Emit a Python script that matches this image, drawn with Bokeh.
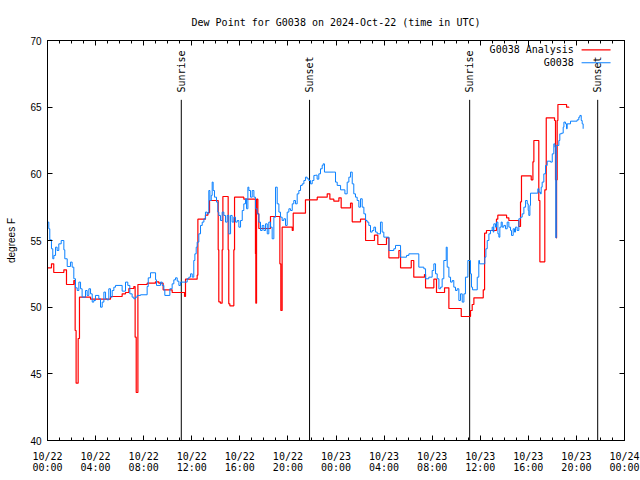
from datetime import datetime, timedelta
from math import pi

from bokeh.plotting import figure
from bokeh.models import (FixedTicker, DatetimeTickFormatter, DatetimeAxis,
                          LinearAxis, Range1d)
from bokeh.core.properties import value
from bokeh.embed import file_html
from bokeh.resources import INLINE

BASE = datetime(2024, 10, 22, 0, 0)

# ---- data: hours after 2024-10-22 00:00 UTC, dew point (deg F) ----
analysis_hours = [0.00, 0.33, 0.52, 1.36, 1.58, 2.19, 2.30, 2.38, 2.55, 2.66,
                  3.58, 5.24, 6.21, 6.49, 6.77, 7.18, 7.29, 7.38, 7.52, 8.29,
                  8.98, 9.26, 9.62, 10.37, 11.40, 11.48, 12.45, 12.51, 13.14, 13.34,
                  13.48, 14.20, 14.25, 14.38, 14.53, 14.59, 15.03, 15.08, 15.17, 15.50,
                  15.56, 16.33, 17.30, 17.33, 17.39, 17.50, 17.58, 18.55, 19.33, 19.41,
                  19.52, 20.36, 20.44, 21.46, 22.44, 23.27, 23.49, 23.82, 24.24, 24.43,
                  25.21, 25.35, 26.04, 26.46, 27.20, 27.48, 28.20, 28.40, 29.23, 29.37,
                  30.26, 30.47, 31.36, 31.45, 32.14, 32.36, 33.03, 33.39, 34.42, 35.19,
                  35.33, 35.47, 36.25, 36.36, 36.52, 37.35, 37.46, 38.19, 38.38, 39.21,
                  39.35, 39.43, 40.24, 40.38, 40.46, 40.87, 40.96, 41.37, 41.49, 42.18,
                  42.26, 42.32, 42.35, 42.40, 42.46, 43.18, 43.37]
analysis_dewpt = [52.95, 53.25, 52.6, 52.8, 51.7, 52.0, 48.25, 44.3, 47.65, 50.75,
                  50.6, 50.8, 51.0, 51.1, 51.4, 51.55, 47.75, 43.6, 51.7, 51.8,
                  51.9, 51.8, 51.3, 51.1, 50.8, 52.1, 52.4, 56.6, 56.9, 57.1,
                  58.0, 54.3, 50.4, 50.3, 54.3, 58.3, 54.3, 50.25, 50.1, 54.3,
                  58.25, 58.1, 54.0, 50.3, 58.1, 57.0, 55.9, 56.8, 53.25, 49.75,
                  56.0, 55.75, 57.05, 58.05, 58.25, 58.5, 58.1, 57.95, 58.2, 57.45,
                  57.8, 56.4, 56.6, 55.0, 55.4, 54.7, 55.2, 53.7, 54.25, 52.95,
                  53.5, 52.25, 52.45, 51.45, 52.1, 51.1, 51.45, 49.9, 49.3, 49.75,
                  50.2, 50.7, 51.3, 55.55, 55.75, 56.6, 56.9, 56.7, 56.5, 56.05,
                  57.9, 59.85, 59.55, 60.9, 62.5, 58.0, 53.4, 58.8, 64.2, 64.0,
                  59.55, 55.2, 59.55, 64.0, 65.2, 65.0, 64.95]

obs_hours = [0.00, 0.11, 0.19, 0.33, 0.44, 0.53, 0.67, 0.80, 0.94, 1.14,
             1.36, 1.44, 1.64, 1.91, 2.05, 2.19, 2.33, 2.47, 2.61, 2.75,
             2.88, 3.16, 3.30, 3.44, 3.58, 3.72, 3.85, 3.99, 4.27, 4.41,
             4.55, 4.69, 4.83, 4.96, 5.10, 5.24, 5.38, 5.52, 5.66, 6.21,
             6.49, 6.68, 6.85, 7.04, 7.18, 7.32, 7.46, 7.74, 8.29, 8.38,
             8.57, 8.99, 9.07, 9.40, 9.54, 9.68, 9.76, 10.18, 10.37, 10.51,
             10.65, 10.79, 10.93, 11.07, 11.62, 11.76, 11.90, 12.04, 12.17, 12.26,
             12.37, 12.45, 12.59, 12.73, 12.87, 13.01, 13.14, 13.28, 13.42, 13.51,
             13.62, 13.70, 13.78, 13.89, 14.06, 14.17, 14.25, 14.39, 14.53, 14.67,
             14.81, 14.95, 15.09, 15.23, 15.36, 15.50, 15.64, 15.78, 15.92, 16.06,
             16.20, 16.33, 16.47, 16.56, 16.67, 16.75, 16.89, 17.03, 17.17, 17.30,
             17.44, 17.58, 17.72, 17.86, 18.00, 18.14, 18.28, 18.41, 18.55, 18.69,
             18.83, 18.97, 19.11, 19.25, 19.38, 19.52, 19.66, 19.80, 19.94, 20.08,
             20.22, 20.36, 20.49, 20.63, 20.77, 20.91, 21.05, 21.19, 21.33, 21.46,
             21.60, 21.74, 21.88, 22.02, 22.16, 22.30, 22.43, 22.57, 22.71, 22.85,
             22.93, 23.04, 23.82, 23.96, 24.10, 24.38, 24.74, 24.93, 25.07, 25.21,
             25.35, 25.48, 25.62, 25.76, 25.90, 26.04, 26.18, 26.32, 26.46, 26.59,
             26.73, 26.87, 27.01, 27.15, 27.29, 27.43, 27.70, 27.84, 27.98, 28.40,
             28.81, 28.95, 29.37, 29.87, 30.06, 30.89, 31.31, 31.45, 31.72, 32.00,
             32.14, 32.28, 32.42, 32.56, 32.70, 32.83, 32.97, 33.17, 33.25, 33.39,
             33.53, 33.67, 33.80, 33.94, 34.08, 34.22, 34.36, 34.50, 34.64, 34.77,
             34.97, 35.19, 35.27, 35.36, 35.75, 35.88, 35.94, 36.38, 36.47, 36.58,
             36.72, 36.85, 36.99, 37.08, 37.13, 37.27, 37.35, 37.47, 37.55, 37.63,
             37.74, 37.83, 37.96, 38.10, 38.24, 38.38, 38.52, 38.60, 38.74, 38.85,
             38.93, 39.07, 39.21, 39.35, 39.49, 39.63, 39.77, 39.91, 39.99, 40.04,
             40.13, 40.18, 40.79, 40.88, 41.01, 41.07, 41.15, 41.29, 41.43, 41.57,
             41.85, 41.99, 42.12, 42.21, 42.29, 42.32, 42.54, 42.62, 42.76, 42.90,
             42.96, 43.09, 43.18, 43.23, 43.51, 44.06, 44.20, 44.29, 44.40, 44.48,
             44.56]
obs_dewpt = [56.38, 55.88, 55.05, 54.38, 53.63, 53.88, 54.5, 54.25, 54.75, 55.0,
             54.3, 53.63, 53.05, 53.38, 53.0, 52.13, 51.45, 51.25, 51.88, 51.38,
             50.75, 51.25, 50.88, 51.38, 51.0, 50.38, 50.5, 50.88, 50.63, 50.0,
             50.38, 51.13, 50.63, 50.55, 51.38, 50.75, 51.25, 51.5, 51.63, 51.2,
             51.88, 51.63, 51.0, 50.75, 50.63, 50.75, 50.88, 50.93, 51.55, 52.2,
             52.58, 52.05, 51.63, 51.88, 51.63, 51.3, 50.88, 51.38, 51.75, 52.05,
             52.2, 51.95, 51.63, 51.88, 52.13, 52.25, 52.5, 52.25, 53.5, 54.0,
             54.5, 54.88, 55.5, 56.13, 56.38, 56.63, 57.13, 57.0, 58.75, 58.0,
             58.38, 59.38, 58.75, 58.25, 57.88, 57.13, 56.88, 56.5, 57.13, 56.88,
             56.38, 56.88, 55.5, 56.88, 56.38, 56.75, 56.38, 56.5, 56.0, 56.5,
             57.25, 57.75, 58.13, 57.38, 59.0, 58.75, 58.25, 58.75, 58.25, 57.38,
             57.0, 56.38, 55.75, 56.13, 55.75, 56.25, 55.5, 56.38, 56.0, 55.13,
             56.75, 59.0, 57.75, 57.13, 56.75, 56.5, 56.63, 56.13, 57.13, 57.38,
             57.25, 57.75, 58.0, 57.75, 58.5, 58.75, 59.13, 59.25, 59.5, 59.75,
             59.63, 59.5, 59.25, 59.5, 59.88, 59.9, 59.6, 60.0, 60.38, 60.63,
             60.75, 60.13, 60.13, 59.38, 59.13, 58.8, 58.5, 59.38, 59.75, 60.13,
             59.25, 58.5, 58.25, 58.0, 57.5, 58.13, 57.5, 57.0, 56.5, 56.38,
             56.13, 55.63, 55.75, 56.0, 55.63, 55.5, 56.38, 55.63, 55.25, 54.25,
             54.38, 54.63, 53.75, 53.88, 54.0, 53.0, 52.88, 52.13, 52.25, 52.75,
             53.25, 52.5, 52.13, 51.38, 51.5, 52.13, 53.5, 54.5, 53.0, 52.25,
             51.88, 52.0, 51.5, 51.25, 51.38, 50.5, 51.0, 50.38, 51.0, 52.25,
             53.5, 52.5, 51.5, 51.3, 52.25, 53.5, 53.25, 53.75, 54.38, 55.0,
             55.5, 55.75, 56.0, 55.63, 56.25, 56.0, 56.38, 55.5, 55.25, 56.0,
             56.38, 56.0, 56.13, 55.88, 56.38, 56.0, 55.75, 55.38, 55.88, 55.63,
             56.0, 55.75, 56.63, 56.75, 57.0, 57.5, 58.0, 57.75, 57.25, 56.88,
             57.63, 58.55, 58.88, 58.63, 58.5, 59.0, 59.38, 60.0, 60.63, 60.95,
             60.88, 61.5, 62.25, 62.0, 55.2, 62.13, 62.5, 63.0, 63.05, 63.5,
             63.88, 63.75, 63.38, 63.75, 63.95, 64.05, 64.25, 64.38, 64.0, 63.75,
             63.38]

event_names = ["Sunrise", "Sunset", "Sunrise", "Sunset"]
event_hours = [11.13, 21.80, 35.12, 45.77]

tick_hours = list(range(0, 49, 4))
minor_tick_hours = list(range(0, 49, 1))
y_ticks = [40, 45, 50, 55, 60, 65, 70]

series_names = ["G0038 Analysis", "G0038"]
series_colors = ["#ff0000", "#0a80ff"]

# ---- helpers ----
EPOCH = datetime(1970, 1, 1)


def t(h):
    return BASE + timedelta(hours=h)


def ms(h):
    return (t(h) - EPOCH).total_seconds() * 1000.0


MONO = "DejaVu Sans Mono"
SANS = "Liberation Sans"

p = figure(width=640, height=480, x_axis_type="datetime",
           x_range=Range1d(t(0), t(48)), y_range=Range1d(40, 70),
           output_backend="svg", toolbar_location=None,
           min_border_left=47, min_border_right=16,
           min_border_top=40, min_border_bottom=40)

p.title.text = "Dew Point for G0038 on 2024-Oct-22 (time in UTC)"
p.title.align = "center"
p.title.text_font = MONO
p.title.text_font_size = "10px"
p.title.text_font_style = "normal"
p.title.text_color = "black"
p.title.standoff = 25

p.xgrid.visible = False
p.ygrid.visible = False
p.outline_line_color = "black"
p.outline_line_width = 1
p.background_fill_color = "white"
p.border_fill_color = "white"

xticker = FixedTicker(ticks=[ms(h) for h in tick_hours],
                      minor_ticks=[ms(h) for h in minor_tick_hours])
fmt = "%m/%d\n%H:%M"
xfmt = DatetimeTickFormatter(microseconds=fmt, milliseconds=fmt, seconds=fmt,
                             minsec=fmt, minutes=fmt, hourmin=fmt, hours=fmt,
                             days=fmt, months=fmt, years=fmt)

xa = p.xaxis[0]
xa.ticker = xticker
xa.formatter = xfmt
xa.major_tick_in = 5
xa.major_tick_out = 0
xa.minor_tick_in = 3
xa.minor_tick_out = 0
xa.axis_line_color = "black"
xa.major_label_text_font = MONO
xa.major_label_text_font_size = "10px"
xa.major_label_text_color = "black"
xa.major_label_text_line_height = 1.05
xa.major_label_standoff = 10

ya = p.yaxis[0]
ya.ticker = FixedTicker(ticks=y_ticks)
ya.major_tick_in = 5
ya.major_tick_out = 0
ya.minor_tick_in = 0
ya.minor_tick_out = 0
ya.major_label_text_font = SANS
ya.major_label_text_font_size = "10px"
ya.major_label_text_color = "black"
ya.major_label_standoff = 6
ya.axis_label = "degrees F"
ya.axis_label_text_font = SANS
ya.axis_label_text_font_size = "10px"
ya.axis_label_text_font_style = "normal"
ya.axis_label_text_color = "black"
ya.axis_label_standoff = 10

# mirrored ticks on top and right
top = DatetimeAxis(ticker=xticker, major_tick_in=5, major_tick_out=0,
                   minor_tick_in=3, minor_tick_out=0,
                   major_label_text_font_size="0px", major_label_standoff=0)
top.major_label_overrides = {ms(h): "" for h in tick_hours}
p.add_layout(top, "above")
right = LinearAxis(ticker=FixedTicker(ticks=y_ticks), major_tick_in=5,
                   major_tick_out=0, minor_tick_in=0, minor_tick_out=0,
                   major_label_text_font_size="0px", major_label_standoff=0)
right.major_label_overrides = {v: "" for v in y_ticks}
p.add_layout(right, "right")

# sunrise / sunset markers
LINE_TOP = 65.55
LABEL_Y = 66.1
ev_x = [t(h) for h in event_hours]
p.segment(x0=ev_x, x1=ev_x, y0=[40] * len(ev_x), y1=[LINE_TOP] * len(ev_x),
          line_color="black", line_width=1)
p.text(x=ev_x, y=[LABEL_Y] * len(ev_x), text=event_names, angle=pi / 2,
       text_align="left", text_baseline="middle", text_font=value(MONO),
       text_font_size="10px", text_color="black")

# data series
p.step(x=[t(h) for h in analysis_hours], y=analysis_dewpt, mode="after",
       line_color=series_colors[0], line_width=1.2)
p.step(x=[t(h) for h in obs_hours], y=obs_dewpt, mode="after",
       line_color=series_colors[1], line_width=1.0)

# key (text to the left of the sample line)
KEY_TEXT_H = 43.79
KEY_LINE_H0, KEY_LINE_H1 = 44.43, 46.84
KEY_Y = [69.3, 68.33]
p.text(x=[t(KEY_TEXT_H)] * 2, y=KEY_Y, text=series_names, text_align="right",
       text_baseline="middle", text_font=value(MONO), text_font_size="10px",
       text_color="black")
p.segment(x0=[t(KEY_LINE_H0)] * 2, x1=[t(KEY_LINE_H1)] * 2, y0=KEY_Y, y1=KEY_Y,
          line_color=series_colors, line_width=1.2)

open("out.html", "w").write(file_html(p, INLINE))
